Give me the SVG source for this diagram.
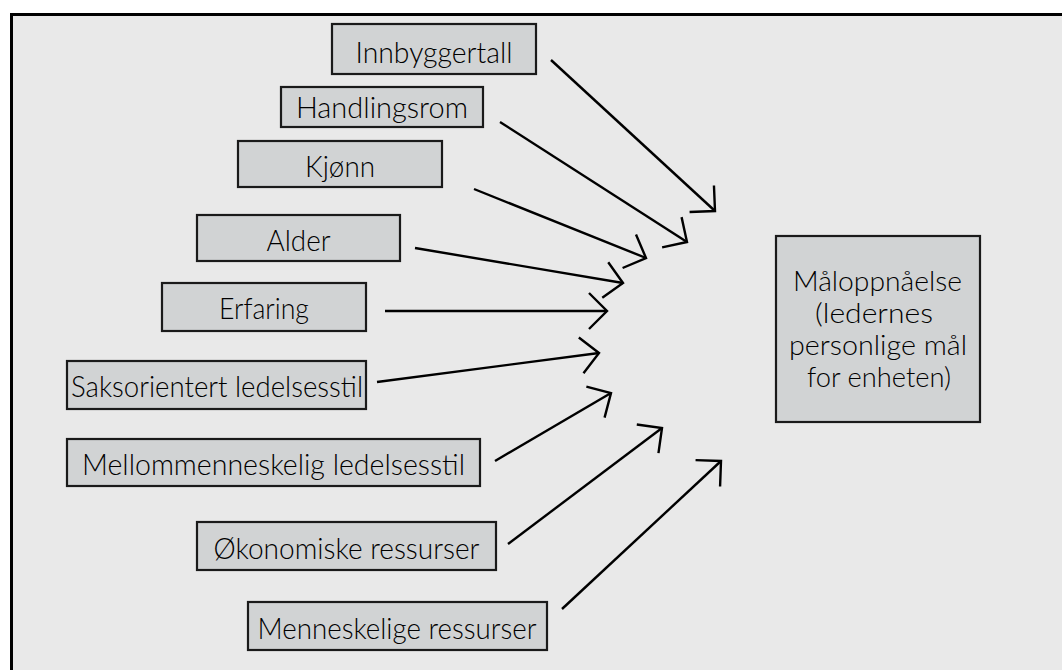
<svg xmlns="http://www.w3.org/2000/svg" width="1062" height="670" viewBox="0 0 1062 670">
<style>
.bg{fill:#e9e9e9;stroke:#000;stroke-width:3}
.box{fill:#d1d3d4;stroke:#1a1a1a;stroke-width:2.2}
.t{font-family:Lato,"Open Sans","Liberation Sans",sans-serif;font-size:29px;font-weight:300;fill:#000;text-anchor:middle}
.m{font-size:27px}
.c{stroke:#000;stroke-width:2.4;fill:none;marker-end:url(#ah)}
</style>
<defs>
<marker id="ah" markerUnits="userSpaceOnUse" markerWidth="40" markerHeight="40" viewBox="-25 -20 30 40" refX="0" refY="0" orient="auto" overflow="visible">
<path d="M-18,-18 L0,0 L-18,18" fill="none" stroke="#000" stroke-width="2.4" stroke-linejoin="miter"/>
</marker>
</defs>
<rect class="bg" x="11.5" y="14.5" width="1060" height="665"/>
<g id="connectors">
<line class="c" x1="551" y1="60" x2="715" y2="211"/>
<line class="c" x1="500" y1="122" x2="687" y2="242"/>
<line class="c" x1="474" y1="189" x2="646" y2="258"/>
<line class="c" x1="415" y1="248" x2="623" y2="283"/>
<line class="c" x1="385" y1="311" x2="607" y2="311"/>
<line class="c" x1="377" y1="382" x2="599" y2="353"/>
<line class="c" x1="495" y1="461" x2="611" y2="393"/>
<line class="c" x1="508" y1="544" x2="662" y2="428"/>
<line class="c" x1="562" y1="609" x2="721" y2="461"/>
</g>
<g id="innbyggertall"><rect class="box" x="332" y="24" width="204" height="50"/><text class="t" x="434" y="63" textLength="157" lengthAdjust="spacingAndGlyphs">Innbyggertall</text></g>
<g id="handlingsrom"><rect class="box" x="281" y="87" width="202" height="40"/><text class="t" x="382" y="118" textLength="172" lengthAdjust="spacingAndGlyphs">Handlingsrom</text></g>
<g id="kjonn"><rect class="box" x="238" y="141" width="204" height="46"/><text class="t" x="340" y="177" textLength="70" lengthAdjust="spacingAndGlyphs">Kjønn</text></g>
<g id="alder"><rect class="box" x="197" y="215" width="203" height="46"/><text class="t" x="298.5" y="251" textLength="64" lengthAdjust="spacingAndGlyphs">Alder</text></g>
<g id="erfaring"><rect class="box" x="162" y="283" width="204" height="48"/><text class="t" x="264" y="319" textLength="90" lengthAdjust="spacingAndGlyphs">Erfaring</text></g>
<g id="saksorientert"><rect class="box" x="67" y="361" width="299" height="48"/><text class="t" x="217" y="397" textLength="292" lengthAdjust="spacingAndGlyphs">Saksorientert ledelsesstil</text></g>
<g id="mellommenneskelig"><rect class="box" x="67" y="439" width="413" height="47"/><text class="t" x="273.5" y="475" textLength="383" lengthAdjust="spacingAndGlyphs">Mellommenneskelig ledelsesstil</text></g>
<g id="okonomiske"><rect class="box" x="197" y="522" width="299" height="48"/><text class="t" x="346.5" y="559" textLength="266" lengthAdjust="spacingAndGlyphs">Økonomiske ressurser</text></g>
<g id="menneskelige"><rect class="box" x="248" y="602" width="299" height="48"/><text class="t" x="397" y="639" textLength="279" lengthAdjust="spacingAndGlyphs">Menneskelige ressurser</text></g>
<g id="maloppnaelse"><rect class="box" x="776" y="236" width="204" height="186"/>
<text class="t m" x="877.5" y="291" textLength="169" lengthAdjust="spacingAndGlyphs">Måloppnåelse</text>
<text class="t m" x="874" y="323" textLength="118" lengthAdjust="spacingAndGlyphs">(ledernes</text>
<text class="t m" x="878" y="355" textLength="178" lengthAdjust="spacingAndGlyphs">personlige mål</text>
<text class="t m" x="879" y="387" textLength="144" lengthAdjust="spacingAndGlyphs">for enheten)</text>
</g>
</svg>
